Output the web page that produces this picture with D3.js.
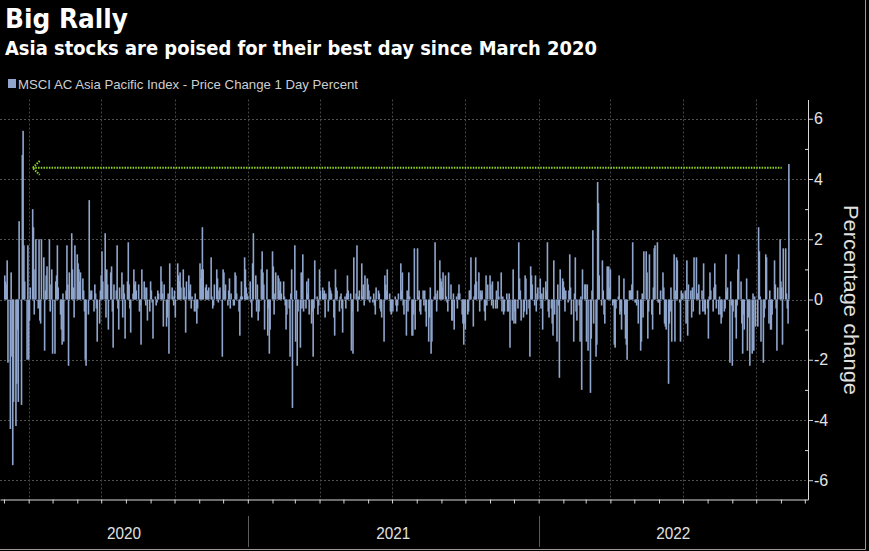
<!DOCTYPE html>
<html>
<head>
<meta charset="utf-8">
<script src="https://cdn.jsdelivr.net/npm/d3@7"></script>
<style>
    body { margin: 0; background: #000; }
    svg { display: block; }
</style>
</head>
<body>
<div id="chart"></div>
<script>
// MSCI AC Asia Pacific, 1 day % change, one inner array per month (weekdays in order)
var firstMonth = "2020-03";

var values2020 = [
    [0.8, 0.6, 0.5, 1.3, -2.1, -4.3, 0.9, -1.9, -5.5, -3.4, -4.2, -2.8, -1.0, -3.4, 2.6, -3.5, 4.8, 5.6, 1.8, 0.6, -2.0, 1.8],
    [-2.0, -0.7, 0.4, 3.0, 2.4, -0.5, 1.0, 2.0, -0.3, 2.0, -0.7, -0.8, 2.0, 1.4, -1.7, 0.3, 0.8, 1.1, 2.0, -0.4, 0.5, 1.0],
    [-1.8, -1.8, 0.6, 0.8, 1.8, 0.4, -0.5, -1.0, -1.5, 0.2, -1.4, 0.3, 1.8, 0.5, -2.2, 0.9, 2.2, 1.0, 0.4, -0.6, 1.8],
    [1.5, 1.2, 1.0, 0.6, 0.9, 0.7, 0.3, -0.4, -2.0, -2.2, -0.5, 3.3, 0.3, 0.2, 0.3, -0.4, 0.5, 0.2, -0.3, -1.4, -0.8, 0.3],
    [0.8, 1.6, 0.6, 2.2, -0.6, 1.0, 0.5, -1.0, 0.9, 1.1, -0.4, -1.6, 0.5, 0.3, 1.8, -0.3, -1.0, 0.4, 0.9, -0.6, 0.5, 0.2, -1.3],
    [0.6, 1.9, 0.5, -0.3, -1.1, 0.2, 1.0, 0.5, 0.6, 0.3, 0.5, -0.4, -0.2, -1.5, 1.0, 0.6, 0.4, -0.2, 0.4, -0.7, -0.4],
    [0.6, 0.3, -0.1, -1.3, 0.1, -0.2, -0.1, 0.3, 0.2, 1.1, 0.6, 0.2, -0.9, 0.5, -0.9, -0.6, 0.2, -1.8, 1.2, 0.4, 0.1, -0.2],
    [0.3, -0.6, 1.2, 0.8, 0.6, 0.9, 0.4, 1.0, 0.4, 0.1, -1.1, 0.6, 0.8, 0.3, 0.5, -0.3, 0.1, -0.4, 0.2, -0.4, -0.8, -0.3],
    [1.2, 0.7, 1.0, 2.4, 1.0, 0.4, 0.5, 0.3, 0.2, 0.4, 1.4, 0.1, -0.3, -0.2, 0.5, 1.0, 0.7, -0.1, 0.3, 0.4, -1.9],
    [1.0, 0.9, 0.3, 0.5, -0.2, 0.3, 0.7, -0.3, 0.2, -0.2, -0.2, 0.9, 0.8, 0.2, -0.4, -1.2, 0.1, 0.6, 0.1, 1.4, 1.0, 0.4, 0.2]
];

var values2021 = [
    [0.1, 0.6, -0.1, -0.6, 1.2, 2.2, 0.8, -0.4, 0.5, -0.7, -0.4, 1.0, 1.6, 0.9, 0.5, -1.0, 1.0, -1.2, -0.3, -1.8, -1.0],
    [1.6, 1.1, -0.5, 0.2, 0.9, 0.8, 0.7, 0.3, 0.6, 0.2, 0.6, 0.1, -0.2, -1.0, -0.5, -0.3, -1.9, 0.2, 1.0, -3.6],
    [1.8, -1.4, 0.3, -2.2, -0.4, -1.6, 0.9, -0.3, 1.5, -0.4, -0.3, 0.6, 0.2, 0.7, -0.5, -0.8, -0.4, -1.9, -0.3, 1.3, 0.1, -0.5, -0.2],
    [1.0, 0.3, 0.4, 0.2, 0.3, -0.6, 0.2, -0.4, 0.6, 0.4, 0.3, 0.2, -0.6, -1.2, 1.0, 0.4, 0.3, -0.4, 0.1, 0.2, -0.3, -1.1],
    [0.1, -0.3, 0.2, 0.8, 0.3, 0.2, -1.7, -0.4, -1.8, 1.4, 0.2, 1.8, -0.4, 0.1, 0.3, 1.2, 0.1, 0.5, -0.2, 0.8, 0.7],
    [0.5, 0.3, -0.1, 0.1, -0.1, 0.2, -0.2, -0.5, 0.4, 0.3, 0.2, -0.3, -0.4, -0.6, -1.4, 0.8, 0.5, 0.3, 1.0, 0.2, -0.4, -0.5],
    [-0.3, -0.4, 0.1, -0.2, -0.4, -0.2, 0.2, 1.2, 0.3, 0.9, -0.2, -0.5, -1.2, 0.3, -0.4, 0.9, 0.1, -1.2, -1.2, -0.5, 1.7, -1.0],
    [1.7, 0.1, 0.3, -0.4, -0.5, 0.3, -0.2, 0.3, -0.4, -0.9, -1.4, -0.6, 0.4, -1.8, -1.4, 0.1, 1.9, 0.2, -0.4, 0.3, 1.3, 0.7],
    [0.6, 0.4, 0.9, 0.8, 0.1, -0.1, -0.4, 0.9, 0.5, -0.7, -0.7, 0.2, -1.0, 0.1, -0.3, 0.2, 0.5, 0.2, -0.5, -0.8, -1.5, -0.8],
    [-1.0, -0.5, -0.4, 0.3, 0.3, 1.4, -0.9, 0.1, 0.5, 1.4, 0.6, 0.9, -0.4, 0.3, 0.2, 0.3, -0.4, -0.7, 0.8, -0.2, 0.5],
    [0.8, 0.5, -0.2, 0.6, -0.3, -0.3, 0.3, -0.3, 0.6, 0.1, 0.9, -0.4, 0.1, -0.5, -0.4, 0.2, -0.4, -0.4, 0.2, -1.6, -0.7, 1.0],
    [-0.8, -0.4, -0.8, -0.3, 1.9, 0.7, 0.3, -0.7, -0.6, -0.4, 0.8, 0.7, -0.5, -0.3, -1.9, 1.1, 0.8, 0.5, -0.2, 0.8, -0.4, 0.2, 0.4]
];

var values2022 = [
    [0.7, -0.3, 0.2, -1.0, 0.4, 0.6, 0.3, 1.9, -0.4, -0.6, -0.3, -0.8, -1.2, 1.3, -0.5, -1.4, 0.5, -0.2, -2.6, 1.0, 0.7],
    [0.6, 0.4, -0.4, 0.3, -0.1, 0.3, 1.5, 0.4, -0.5, -1.4, 0.2, 1.4, -0.4, -0.7, -0.2, -1.4, 0.1, -3.0, 1.0, 0.5],
    [0.5, -1.4, 0.5, -1.7, -3.1, -1.3, 0.3, 2.3, -0.8, -1.9, -1.5, 3.9, 3.2, 0.8, -0.2, 1.3, 0.3, -0.5, -0.8, 1.1, 0.7, 1.1, 0.4],
    [1.0, -0.2, -0.1, -1.5, -1.6, -0.3, 0.1, 0.8, -0.5, -0.4, -1.0, 0.7, -0.5, -1.3, -1.5, -2.0, 0.3, 0.3, 0.3, 0.5, 1.9],
    [-0.1, -0.1, -0.2, 0.3, -0.8, -1.7, -1.4, 0.2, -0.6, 1.6, 1.6, 0.9, -1.3, -0.4, 1.5, -0.5, -1.0, 0.4, 1.7, 1.8, 1.9, -0.1],
    [-0.1, -0.5, 0.3, 0.9, 0.4, -0.8, -0.9, -1.0, -2.8, -0.8, -0.4, 0.4, -1.4, 1.5, -1.4, 0.3, 1.4, 1.3, -0.1, -1.4, 0.3, 0.2],
    [0.2, 0.3, -0.8, 1.3, -1.2, 0.5, 0.3, -0.6, 0.4, -0.4, 1.4, 1.4, 0.2, 0.2, 0.5, -0.5, 0.3, -0.4, 1.2, -0.4, -0.5],
    [-0.3, -1.3, 0.1, 0.9, 0.3, -0.4, 0.4, 1.2, 0.5, -0.3, -0.5, 0.1, -0.5, -0.8, -0.6, -0.4, -0.3, 1.5, 0.3, 0.4, -2.1, 0.6, -0.2],
    [-2.2, -0.4, -0.6, -1.3, -0.2, 1.0, 1.5, 0.6, -0.8, -1.8, -0.5, -1.0, 0.7, -1.7, -0.6, -0.4, -2.2, -1.8, 0.2, -1.7, 0.1, -0.9],
    [-0.9, 2.4, 1.6, 0.1, -1.4, -2.1, -0.6, -0.3, 1.5, 1.4, -0.8, 0.3, -1.0, -1.0, -0.5, 1.3, 0.5, -0.3, -1.7, 0.4, 2.0],
    [0.6, 0.4, -1.5, 1.7, 1.7, 0.2, -0.3, -0.8, 4.5]
];

var yTicks = [-6, -4, -2, 0, 2, 4, 6];
var yMinorTicks = [-5, -3, -1, 1, 3, 5];
var yearLabels = ["2020", "2021", "2022"];
var xDomain = ["2020-02-25", "2022-12-05"];

var titleText = "Big Rally";
var subtitleText = "Asia stocks are poised for their best day since March 2020";
var seriesName = "MSCI AC Asia Pacific Index - Price Change 1 Day Percent";
var yLabel = "Percentage change";

// green arrow back to the March 2020 high
var rally = { from: "2020-04-06", to: "2022-11-02", value: 4.37 };


var width = 869, height = 551;
var plot = { left: 0, right: 808, top: 99.5, bottom: 499.5 };
var barColor = "#8fa5cc";
var barWidth = 1.6;

var parseDay = d3.timeParse("%Y-%m-%d");
var parseMonth = d3.timeParse("%Y-%m");

// give every value its weekday
var data = [];
[].concat(values2020, values2021, values2022).forEach(function(vals, i) {
    var m0 = d3.timeMonth.offset(parseMonth(firstMonth), i);
    var days = d3.timeDay.range(m0, d3.timeMonth.offset(m0, 1))
        .filter(function(d) { return d.getDay() > 0 && d.getDay() < 6; });
    vals.forEach(function(v, j) { data.push({ date: days[j], value: v }); });
});

var svg = d3.select("#chart").append("svg")
    .attr("width", width)
    .attr("height", height);

svg.append("rect")
    .attr("width", width)
    .attr("height", height)
    .attr("fill", "#000");

var x = d3.scaleTime()
    .domain(xDomain.map(parseDay))
    .range([plot.left, plot.right]);

var y = d3.scaleLinear()
    .domain([-6.64, 6.64])
    .range([plot.bottom, plot.top]);

// dotted grid
svg.append("g")
    .selectAll("line")
    .data(yTicks)
    .enter().append("line")
    .attr("x1", plot.left)
    .attr("x2", plot.right)
    .attr("y1", function(d) { return Math.round(y(d)) + 0.5; })
    .attr("y2", function(d) { return Math.round(y(d)) + 0.5; })
    .attr("stroke", "#505050")
    .attr("stroke-dasharray", "2,2");

svg.append("g")
    .selectAll("line")
    .data(x.ticks(d3.timeMonth.every(3)))
    .enter().append("line")
    .attr("x1", function(d) { return Math.round(x(d)) + 0.5; })
    .attr("x2", function(d) { return Math.round(x(d)) + 0.5; })
    .attr("y1", plot.top)
    .attr("y2", plot.bottom)
    .attr("stroke", "#464646")
    .attr("stroke-dasharray", "2,2");

// bars
svg.append("g")
    .selectAll("rect")
    .data(data)
    .enter().append("rect")
    .attr("x", function(d) { return x(d.date) - barWidth / 2; })
    .attr("width", barWidth)
    .attr("y", function(d) { return y(Math.max(0, d.value)); })
    .attr("height", function(d) { return Math.abs(y(d.value) - y(0)); })
    .attr("fill", barColor);

// rally arrow
var ay = y(rally.value);
var ax0 = x(parseDay(rally.from)), ax1 = x(parseDay(rally.to));
var arrow = svg.append("g")
    .attr("fill", "none")
    .attr("stroke", "#8fd62a")
    .attr("stroke-width", 2)
    .attr("stroke-dasharray", "1.5,1.2");
arrow.append("line")
    .attr("x1", ax0).attr("x2", ax1)
    .attr("y1", ay).attr("y2", ay);
arrow.append("path")
    .attr("d", "M" + (ax0 + 7) + "," + (ay - 7) + "L" + ax0 + "," + ay + "L" + (ax0 + 7) + "," + (ay + 7));

// axes
var yAxis = svg.append("g")
    .attr("transform", "translate(" + plot.right + ",0)")
    .call(d3.axisRight(y)
        .tickValues(yTicks)
        .tickSize(5)
        .tickSizeOuter(0)
        .tickPadding(1)
        .tickFormat(function(d) { return String(d); }));

svg.append("g")
    .attr("transform", "translate(" + plot.right + ",0)")
    .call(d3.axisRight(y).tickValues(yMinorTicks).tickSize(-3).tickFormat(""))
    .select(".domain").remove();

var xAxis = svg.append("g")
    .attr("transform", "translate(0," + plot.bottom + ")")
    .call(d3.axisBottom(x)
        .ticks(d3.timeMonth.every(1))
        .tickSize(4)
        .tickSizeOuter(0)
        .tickFormat(""));

svg.selectAll(".domain, .tick line")
    .attr("stroke", "#d8d8d8");

yAxis.selectAll("text")
    .attr("fill", "#e4e4e4")
    .style("font-family", "'Liberation Sans', Arial, sans-serif")
    .style("font-size", "16px");

// years under the axis
svg.append("g")
    .selectAll("line")
    .data(yearLabels.slice(1))
    .enter().append("line")
    .attr("x1", function(d) { return Math.round(x(parseMonth(d + "-01"))) + 0.5; })
    .attr("x2", function(d) { return Math.round(x(parseMonth(d + "-01"))) + 0.5; })
    .attr("y1", 516)
    .attr("y2", 547)
    .attr("stroke", "#5c5c5c");

svg.append("g")
    .selectAll("text")
    .data(yearLabels)
    .enter().append("text")
    .attr("x", function(d) {
        var a = Math.max(x(parseMonth(d + "-01")), plot.left);
        var b = Math.min(x(parseMonth((+d + 1) + "-01")), plot.right);
        return (a + b) / 2;
    })
    .attr("y", 539)
    .attr("text-anchor", "middle")
    .attr("fill", "#e0e0e0")
    .attr("textLength", 34)
    .attr("lengthAdjust", "spacingAndGlyphs")
    .style("font-family", "'Liberation Sans', Arial, sans-serif")
    .style("font-size", "17px")
    .text(function(d) { return d; });

svg.append("text")
    .attr("transform", "translate(844,300) rotate(90)")
    .attr("text-anchor", "middle")
    .attr("fill", "#e0e0e0")
    .attr("textLength", 190)
    .attr("lengthAdjust", "spacingAndGlyphs")
    .style("font-family", "'Liberation Sans', Arial, sans-serif")
    .style("font-size", "20px")
    .text(yLabel);

// titles and legend
svg.append("text")
    .attr("x", 5)
    .attr("y", 28)
    .attr("fill", "#fff")
    .attr("textLength", 123)
    .attr("lengthAdjust", "spacingAndGlyphs")
    .style("font-family", "'DejaVu Sans', sans-serif")
    .style("font-weight", "bold")
    .style("font-size", "27px")
    .text(titleText);

svg.append("text")
    .attr("x", 5)
    .attr("y", 55)
    .attr("fill", "#fff")
    .attr("textLength", 592)
    .attr("lengthAdjust", "spacingAndGlyphs")
    .style("font-family", "'DejaVu Sans', sans-serif")
    .style("font-weight", "bold")
    .style("font-size", "20px")
    .text(subtitleText);

svg.append("rect")
    .attr("x", 8)
    .attr("y", 79)
    .attr("width", 8)
    .attr("height", 9)
    .attr("fill", barColor);

svg.append("text")
    .attr("x", 18)
    .attr("y", 89)
    .attr("fill", "#cfcfcf")
    .attr("textLength", 340)
    .attr("lengthAdjust", "spacingAndGlyphs")
    .style("font-family", "'Liberation Sans', Arial, sans-serif")
    .style("font-size", "13.5px")
    .text(seriesName);

// thin frame on the right and bottom edges
svg.append("path")
    .attr("d", "M" + (width - 3.5) + ",0V" + (height - 1.5) + "H0")
    .attr("fill", "none")
    .attr("stroke", "#9a9a9a");
</script>
</body>
</html>
